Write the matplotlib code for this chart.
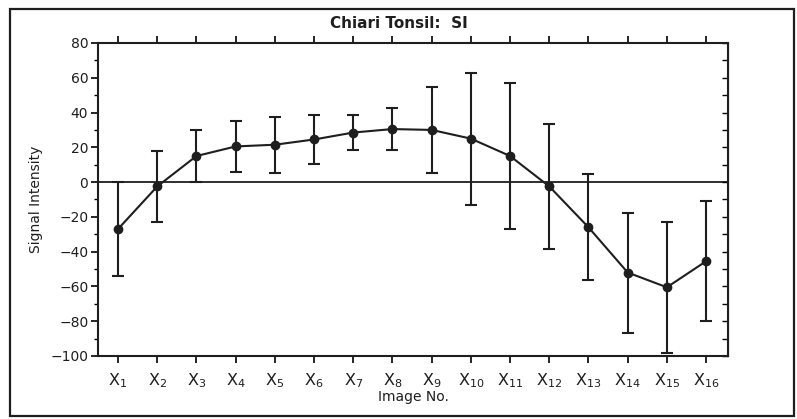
import matplotlib
matplotlib.use("Agg")
import matplotlib.pyplot as plt
import numpy as np
from matplotlib.patches import Rectangle

# image numbers and measured signal intensity (mean, +/- error)
image_no = np.arange(1, 17)
tick_labels = [f"X$_{{{i}}}$" for i in image_no]
si_mean = [-27, -2.5, 15, 20.5, 21.5, 24.5, 28.5, 30.5, 30, 25, 15, -2.5, -26, -52, -60.5, -45.5]
si_err = [27, 20.5, 15, 14.5, 16, 14, 10, 12, 24.5, 38, 42, 36, 30.5, 34.5, 37.5, 34.5]

plt.rcParams['mathtext.default'] = 'regular'
ink = "#1e1e1e"

fig = plt.figure(figsize=(7.97, 4.19), dpi=100)
ax = fig.add_axes([0.123, 0.1504, 0.7905, 0.747])

# outer frame around the whole chart
fig.patches.append(Rectangle((0.013, 0.008), 0.983, 0.970, transform=fig.transFigure,
                             fill=False, edgecolor=ink, linewidth=1.6))

ax.errorbar(image_no, si_mean, yerr=si_err, color=ink, marker="o", markersize=6,
            linewidth=1.5, elinewidth=1.5, capsize=4, capthick=1.5)
ax.axhline(0, color=ink, linewidth=1.3, zorder=0)

ax.set_xlim(0.49, 16.56)
ax.set_ylim(-100, 80)
ax.set_xticks(image_no)
ax.set_xticklabels(tick_labels, fontsize=11.5, color=ink)
ax.set_yticks(np.arange(-100, 81, 20))
ax.set_yticks(np.arange(-100, 81, 10), minor=True)
ax.tick_params(axis="y", which="major", direction="out", length=5, width=1.2, labelsize=10, labelcolor=ink, pad=2)
ax.tick_params(axis="y", which="minor", direction="out", length=3, width=1.0)
ax.tick_params(axis="x", which="both", direction="out", length=5, width=1.2, top=True, pad=6)
for s in ax.spines.values():
    s.set_linewidth(1.5)
    s.set_color(ink)

right = ax.secondary_yaxis("right")
right.set_yticks(np.arange(-100, 81, 10))
right.tick_params(direction="in", length=4, width=1.0, labelright=False)

ax.set_xlabel("Image No.", fontsize=10, color=ink, labelpad=0)
ax.set_ylabel("Signal Intensity", fontsize=10, color=ink, labelpad=5)
fig.text(0.5, 0.945, "Chiari Tonsil:  SI", ha="center", va="center",
         fontsize=11, fontweight="bold", color=ink)

plt.savefig("out.png", dpi=100)
plt.close()
